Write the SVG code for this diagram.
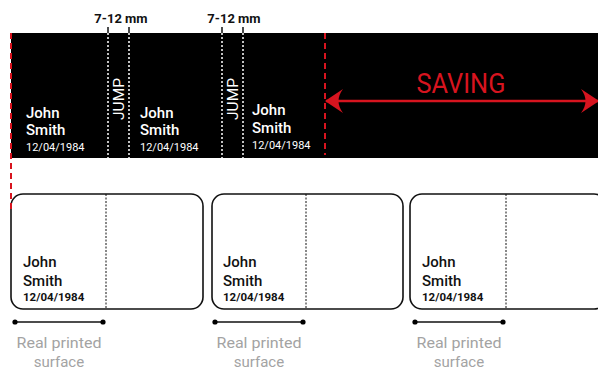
<svg xmlns="http://www.w3.org/2000/svg" width="598" height="372" viewBox="0 0 598 372">
<defs>
<style>
.name{font-family:Roboto,"Liberation Sans",sans-serif;font-weight:500;font-size:15px}
.dateW{font-family:Roboto,"Liberation Sans",sans-serif;font-size:11px;fill:#fff}
.dateB{font-family:Roboto,"Liberation Sans",sans-serif;font-weight:bold;font-size:11.5px;fill:#111}
.mm{font-family:Roboto,"Liberation Sans",sans-serif;font-weight:bold;font-size:13px;fill:#111}
.jump{font-family:Roboto,"Liberation Sans",sans-serif;font-size:14px;fill:#fff}
.rps{font-family:Roboto,"Liberation Sans",sans-serif;font-size:15px;fill:#a3a3a3;text-anchor:middle}
.wdot{stroke:#fff;stroke-width:1.5;stroke-dasharray:2 2;fill:none}
.bdot{stroke:#111;stroke-width:1.5;fill:none}
.card{fill:#fff;stroke:#111;stroke-width:1.6}
.cdot{stroke:#111;stroke-width:1;stroke-dasharray:2 1.5;fill:none}
.red{stroke:#d7141f;stroke-width:2;stroke-dasharray:6 4;fill:none}
.bar{stroke:#111;stroke-width:1.6}
</style>
<marker id="ah" viewBox="0 0 18 24" refX="17" refY="12" markerWidth="18" markerHeight="24" markerUnits="userSpaceOnUse" orient="auto-start-reverse">
<path d="M0,0 Q9,12 0,24 L18,12 Z" fill="#d7141f"/>
</marker>
</defs>
<g id="band">
<rect x="11" y="33" width="587" height="125" fill="#000"/>
</g>
<g id="labels-mm">
<text class="mm" x="121" y="23" text-anchor="middle">7-12 mm</text>
<text class="mm" x="234" y="23" text-anchor="middle">7-12 mm</text>
</g>
<g id="jump1">
<line class="bdot" x1="108" y1="27" x2="108" y2="33"/>
<line class="bdot" x1="129" y1="27" x2="129" y2="33"/>
<line class="wdot" x1="108" y1="33" x2="108" y2="158"/>
<line class="wdot" x1="129" y1="33" x2="129" y2="158"/>
<text class="jump" transform="translate(123.5,99) rotate(-90)" text-anchor="middle" textLength="42" lengthAdjust="spacingAndGlyphs">JUMP</text>
</g>
<g id="jump2">
<line class="bdot" x1="222" y1="27" x2="222" y2="33"/>
<line class="bdot" x1="243" y1="27" x2="243" y2="33"/>
<line class="wdot" x1="222" y1="33" x2="222" y2="158"/>
<line class="wdot" x1="243" y1="33" x2="243" y2="158"/>
<text class="jump" transform="translate(237.5,99) rotate(-90)" text-anchor="middle" textLength="42" lengthAdjust="spacingAndGlyphs">JUMP</text>
</g>
<g id="print1">
<text class="name" x="26" y="118" fill="#fff">John</text>
<text class="name" x="26" y="135" fill="#fff">Smith</text>
<text class="dateW" x="26" y="151">12/04/1984</text>
</g>
<g id="print2">
<text class="name" x="140" y="118" fill="#fff">John</text>
<text class="name" x="140" y="135" fill="#fff">Smith</text>
<text class="dateW" x="140" y="151">12/04/1984</text>
</g>
<g id="print3">
<text class="name" x="252" y="115" fill="#fff">John</text>
<text class="name" x="252" y="133" fill="#fff">Smith</text>
<text class="dateW" x="252" y="149">12/04/1984</text>
</g>
<g id="saving">
<text x="461" y="93" text-anchor="middle" font-family="Roboto,'Liberation Sans',sans-serif" font-size="27" fill="#d7141f" textLength="89" lengthAdjust="spacingAndGlyphs">SAVING</text>
</g>
<g id="card1">
<rect class="card" x="11" y="194" width="192" height="115" rx="12"/>
<line class="cdot" x1="106" y1="194" x2="106" y2="309"/>
<text class="name" x="23" y="267" fill="#111">John</text>
<text class="name" x="23" y="286" fill="#111">Smith</text>
<text class="dateB" x="23" y="301">12/04/1984</text>
</g>
<g id="card2">
<rect class="card" x="212" y="194" width="191" height="115" rx="12"/>
<line class="cdot" x1="306" y1="194" x2="306" y2="309"/>
<text class="name" x="223" y="267" fill="#111">John</text>
<text class="name" x="223" y="286" fill="#111">Smith</text>
<text class="dateB" x="223" y="301">12/04/1984</text>
</g>
<g id="card3">
<rect class="card" x="410" y="194" width="196" height="115" rx="12"/>
<line class="cdot" x1="506" y1="194" x2="506" y2="309"/>
<text class="name" x="422" y="267" fill="#111">John</text>
<text class="name" x="422" y="286" fill="#111">Smith</text>
<text class="dateB" x="422" y="301">12/04/1984</text>
</g>
<g id="connectors">
<line class="red" x1="11" y1="33" x2="11" y2="213"/>
<line class="red" x1="325" y1="33" x2="325" y2="155"/>
<line x1="326" y1="101" x2="598" y2="101" stroke="#d7141f" stroke-width="2.5" marker-start="url(#ah)" marker-end="url(#ah)"/>
<g class="dim">
<line class="bar" x1="15" y1="322" x2="103" y2="322"/>
<circle cx="15" cy="322" r="2.6"/><circle cx="103" cy="322" r="2.6"/>
<line class="bar" x1="215" y1="322" x2="303" y2="322"/>
<circle cx="215" cy="322" r="2.6"/><circle cx="303" cy="322" r="2.6"/>
<line class="bar" x1="415" y1="322" x2="503" y2="322"/>
<circle cx="415" cy="322" r="2.6"/><circle cx="503" cy="322" r="2.6"/>
</g>
</g>
<g id="captions">
<text class="rps" x="59" y="348" textLength="85" lengthAdjust="spacingAndGlyphs">Real printed</text>
<text class="rps" x="59" y="367">surface</text>
<text class="rps" x="259" y="348" textLength="85" lengthAdjust="spacingAndGlyphs">Real printed</text>
<text class="rps" x="259" y="367">surface</text>
<text class="rps" x="459" y="348" textLength="85" lengthAdjust="spacingAndGlyphs">Real printed</text>
<text class="rps" x="459" y="367">surface</text>
</g>
</svg>
